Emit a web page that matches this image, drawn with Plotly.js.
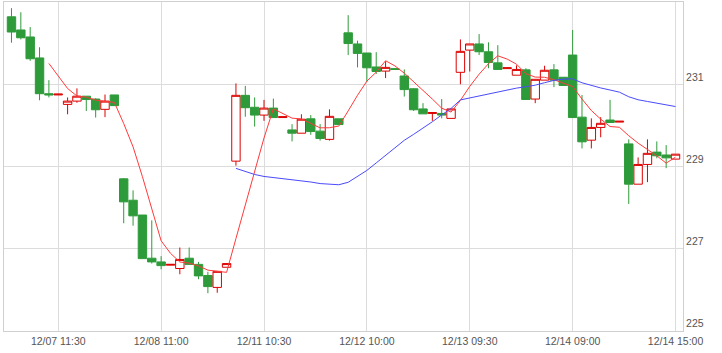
<!DOCTYPE html>
<html>
<head>
<meta charset="utf-8">
<script src="https://cdn.plot.ly/plotly-3.0.1.min.js"></script>
<style>
  html, body { margin: 0; padding: 0; background: #fff; }
  #chart { width: 722px; height: 353px; }
</style>
</head>
<body>
<div id="chart"></div>
<script>
// Bar slots (one per candle)
const barIndex = [0,1,2,3,4,5,6,7,8,9,10,11,12,13,14,15,16,17,18,19,20,21,22,23,24,25,26,27,28,29,30,31,32,33,34,35,
  36,37,38,39,40,41,42,43,44,45,46,47,48,49,50,51,52,53,54,55,56,57,58,59,60,61,62,63,64,65,66,67,68,69,70,71];

const openP = [232.64,232.32,232.15,231.64,230.77,230.74,230.51,230.59,230.71,230.64,230.39,230.74,
  228.70,228.18,227.82,226.77,226.68,226.60,226.52,226.77,226.62,226.35,226.06,226.55,
  229.13,230.73,230.44,230.25,230.42,230.19,229.89,229.81,230.16,229.86,229.66,230.16,
  232.25,231.98,231.76,231.42,231.32,231.38,231.20,230.89,230.40,230.29,230.29,230.17,
  231.29,231.83,231.98,231.79,231.52,231.38,231.22,231.35,230.64,231.10,231.35,231.17,
  231.71,230.20,229.64,229.95,230.13,230.08,229.55,228.57,229.05,229.35,229.28,229.18];

const highP = [232.85,232.75,232.39,231.90,231.10,230.76,230.68,230.90,230.71,230.66,230.75,230.74,
  228.72,228.42,227.82,227.69,226.82,226.62,227.03,227.03,226.68,226.44,226.45,226.64,
  231.02,230.96,230.68,230.62,230.65,230.21,230.03,230.27,230.25,230.03,230.39,230.16,
  232.68,232.06,231.76,231.78,231.56,231.38,231.36,230.90,230.54,230.31,230.64,230.40,
  232.09,231.98,232.22,232.02,231.95,231.40,231.46,231.39,231.12,231.45,231.49,231.17,
  232.32,230.74,230.17,230.20,230.62,230.10,229.66,229.22,229.66,229.61,229.52,229.30];

const lowP = [232.01,232.09,231.57,230.61,230.68,230.74,230.27,230.55,230.35,230.19,230.20,230.48,
  227.62,227.56,226.76,226.64,226.50,226.60,226.38,226.62,226.26,225.92,225.93,226.55,
  229.02,230.21,229.97,230.11,230.19,230.19,229.61,229.81,229.77,229.63,229.63,230.02,
  231.71,231.41,231.06,231.25,231.15,231.36,230.70,230.35,230.28,230.11,230.17,230.17,
  231.00,231.31,231.71,231.39,231.36,231.38,231.22,230.63,230.54,231.10,230.93,230.97,
  230.19,229.44,229.44,229.71,230.07,230.08,228.09,228.57,228.62,229.20,228.96,229.18];

const closeP = [232.27,232.13,231.62,230.77,230.74,230.76,230.59,230.71,230.63,230.38,230.59,230.48,
  228.14,227.80,226.76,226.68,226.59,226.62,226.74,226.62,226.34,226.08,226.45,226.64,
  230.73,230.43,230.25,230.42,230.19,230.21,229.81,230.15,229.85,229.68,230.22,230.02,
  231.99,231.75,231.40,231.31,231.41,231.36,230.87,230.38,230.28,230.31,230.25,230.40,
  231.80,231.98,231.79,231.53,231.36,231.40,231.36,230.63,231.12,231.34,231.10,230.97,
  230.19,229.60,229.95,230.05,230.07,230.10,228.57,229.05,229.32,229.26,229.21,229.30];

// Short moving-average line (red)
const maShort = [null,null,null,null,231.506,231.204,230.896,230.714,230.686,230.614,230.580,230.558,
  230.044,229.478,228.754,227.972,227.194,226.890,226.678,226.650,226.582,226.480,226.446,226.426,
  227.248,228.066,228.900,229.694,230.404,230.300,230.176,230.156,230.042,229.940,229.942,229.984,
  230.352,230.732,231.076,231.294,231.572,231.446,231.270,231.066,230.860,230.640,230.418,230.324,
  230.608,230.948,231.244,231.500,231.692,231.612,231.488,231.256,231.174,231.170,231.110,231.032,
  230.944,230.640,230.362,230.152,229.972,229.954,229.748,229.568,229.422,229.260,229.082,229.228];

// Long moving-average line (blue)
const maLong = [null,null,null,null,null,null,null,null,null,null,null,null,
  null,null,null,null,null,null,null,null,null,null,null,null,
  228.954,228.881,228.806,228.758,228.734,228.713,228.675,228.658,228.623,228.585,228.579,228.556,
  228.616,228.761,228.905,229.087,229.276,229.467,229.637,229.782,229.929,230.088,230.254,230.412,
  230.619,230.669,230.723,230.774,230.812,230.860,230.906,230.939,230.978,231.038,231.094,231.124,
  231.131,231.036,230.964,230.910,230.860,230.808,230.696,230.623,230.581,230.540,230.496,230.458];

const xTickIdx = [5,16,27,38,49,60,71];
const xTickText = ['12/07 11:30','12/08 11:00','12/11 10:30','12/12 10:00','12/13 09:30','12/14 09:00','12/14 15:00'];
const yTickVals = [225,227,229,231];

const traces = [
  {
    type: 'candlestick',
    x: barIndex, open: openP, high: highP, low: lowP, close: closeP,
    increasing: { line: { color: '#dd0000', width: 1 }, fillcolor: '#ffffff' },
    decreasing: { line: { color: '#2e9b3a', width: 1 }, fillcolor: '#2e9b3a' },
    whiskerwidth: 0,
    showlegend: false, hoverinfo: 'skip'
  },
  {
    type: 'scatter', mode: 'lines', x: barIndex, y: maShort,
    line: { color: '#ff3a3a', width: 1 }, showlegend: false, hoverinfo: 'skip'
  },
  {
    type: 'scatter', mode: 'lines', x: barIndex, y: maLong,
    line: { color: '#4a4aff', width: 1 }, showlegend: false, hoverinfo: 'skip'
  }
];

const axisFont = { family: '"Liberation Sans", Arial, sans-serif', size: 10.5, color: '#555' };

const layout = {
  width: 722, height: 353,
  margin: { l: 4, r: 39, t: 2, b: 22, pad: 0 },
  paper_bgcolor: '#fff', plot_bgcolor: '#fff',
  boxgap: 0.1, boxgroupgap: 0,
  xaxis: {
    range: [-0.8, 71.8], tickmode: 'array', tickvals: xTickIdx, ticktext: xTickText,
    showgrid: true, gridcolor: '#dcdcdc', gridwidth: 1,
    showline: true, linecolor: '#d0d0d0', linewidth: 1, mirror: true,
    ticks: '', tickfont: axisFont, zeroline: false,
    rangeslider: { visible: false }, fixedrange: true
  },
  yaxis: {
    side: 'right', range: [225, 233], tickmode: 'array', tickvals: yTickVals,
    showgrid: true, gridcolor: '#dcdcdc', gridwidth: 1,
    showline: true, linecolor: '#d0d0d0', linewidth: 1, mirror: true,
    ticks: '', tickfont: axisFont, zeroline: false,
    ticklabelposition: 'outside top', fixedrange: true
  }
};

Plotly.newPlot('chart', traces, layout, { displayModeBar: false, staticPlot: true });
</script>
</body>
</html>
